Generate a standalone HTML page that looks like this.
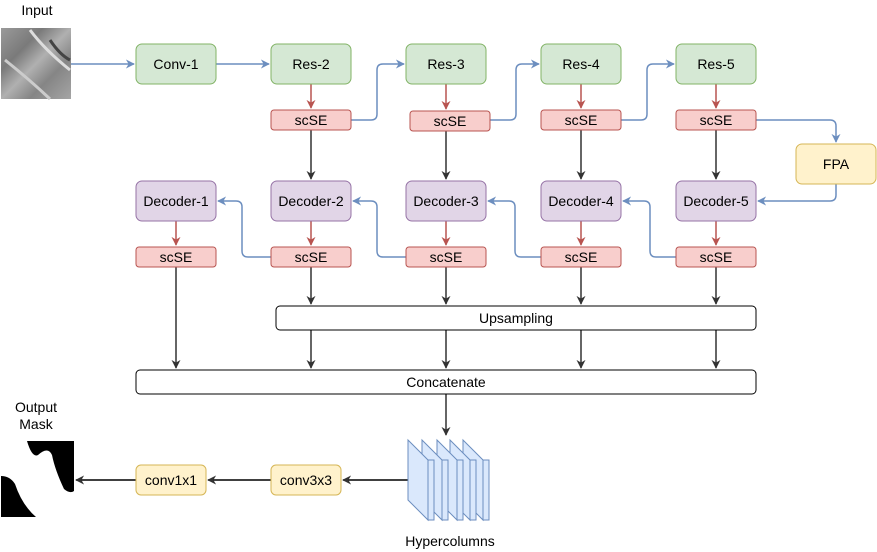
<!DOCTYPE html>
<html><head><meta charset="utf-8"><style>
body{margin:0;background:#fff}
svg{display:block}
text{font-family:"Liberation Sans",Arial,sans-serif;font-size:14px;fill:#000;text-anchor:middle;dominant-baseline:central}
</style></head><body>
<svg width="877" height="552" viewBox="0 0 877 552" xmlns="http://www.w3.org/2000/svg">
<defs>
<marker id="ab" viewBox="0 0 10 10" refX="9" refY="5" markerWidth="9" markerHeight="9" orient="auto" markerUnits="userSpaceOnUse"><path d="M0,0 L10,5 L0,10 L3,5 z" fill="#6c8ebf"/></marker>
<marker id="ar" viewBox="0 0 10 10" refX="9" refY="5" markerWidth="9" markerHeight="9" orient="auto" markerUnits="userSpaceOnUse"><path d="M0,0 L10,5 L0,10 L3,5 z" fill="#b85450"/></marker>
<marker id="ak" viewBox="0 0 10 10" refX="9" refY="5" markerWidth="9" markerHeight="9" orient="auto" markerUnits="userSpaceOnUse"><path d="M0,0 L10,5 L0,10 L3,5 z" fill="#333"/></marker>
<linearGradient id="tex" x1="0" y1="0" x2="1" y2="1"><stop offset="0" stop-color="#9a9a9a"/><stop offset="0.3" stop-color="#7a7a7a"/><stop offset="0.5" stop-color="#b0b0b0"/><stop offset="0.7" stop-color="#858585"/><stop offset="1" stop-color="#a5a5a5"/></linearGradient>
</defs>
<text x="37" y="10">Input</text>
<rect x="1" y="28" width="70" height="71" fill="url(#tex)"/>
<path d="M30,30 Q45,50 70,70" stroke="#ddd" stroke-width="3" fill="none"/>
<path d="M5,60 Q30,80 50,99" stroke="#ccc" stroke-width="3" fill="none"/>
<path d="M50,40 Q60,55 70,60" stroke="#444" stroke-width="3" fill="none"/>

<g fill="none" stroke-width="1.5">
<path d="M71,64 H134" stroke="#6c8ebf" marker-end="url(#ab)"/>
<path d="M216,64 H269" stroke="#6c8ebf" marker-end="url(#ab)"/>
<path d="M351,120 H371 Q377,120 377,114 V70 Q377,64 383,64 H404" stroke="#6c8ebf" marker-end="url(#ab)"/>
<path d="M490,120 H510 Q516,120 516,114 V70 Q516,64 522,64 H539" stroke="#6c8ebf" marker-end="url(#ab)"/>
<path d="M621,120 H641 Q647,120 647,114 V70 Q647,64 653,64 H674" stroke="#6c8ebf" marker-end="url(#ab)"/>
<path d="M756,120 H830 Q836,120 836,126 V142" stroke="#6c8ebf" marker-end="url(#ab)"/>
<path d="M836,184 V195 Q836,201 830,201 H758" stroke="#6c8ebf" marker-end="url(#ab)"/>
<path d="M676,257 H656 Q650,257 650,251 V207 Q650,201 644,201 H623" stroke="#6c8ebf" marker-end="url(#ab)"/>
<path d="M541,257 H521 Q515,257 515,251 V207 Q515,201 509,201 H488" stroke="#6c8ebf" marker-end="url(#ab)"/>
<path d="M406,257 H383 Q377,257 377,251 V207 Q377,201 371,201 H353" stroke="#6c8ebf" marker-end="url(#ab)"/>
<path d="M271,257 H248 Q242,257 242,251 V207 Q242,201 236,201 H218" stroke="#6c8ebf" marker-end="url(#ab)"/>
<g stroke="#b85450">
<path d="M311,84 V108" marker-end="url(#ar)"/>
<path d="M446,84 V109" marker-end="url(#ar)"/>
<path d="M581,84 V108" marker-end="url(#ar)"/>
<path d="M716,84 V108" marker-end="url(#ar)"/>
<path d="M176,221 V245" marker-end="url(#ar)"/>
<path d="M311,221 V245" marker-end="url(#ar)"/>
<path d="M446,221 V245" marker-end="url(#ar)"/>
<path d="M581,221 V245" marker-end="url(#ar)"/>
<path d="M716,221 V245" marker-end="url(#ar)"/>
</g>
<g stroke="#333">
<path d="M311,130 V179" marker-end="url(#ak)"/>
<path d="M446,131 V179" marker-end="url(#ak)"/>
<path d="M581,130 V179" marker-end="url(#ak)"/>
<path d="M716,130 V179" marker-end="url(#ak)"/>
<path d="M311,267 V304" marker-end="url(#ak)"/>
<path d="M446,267 V304" marker-end="url(#ak)"/>
<path d="M581,267 V304" marker-end="url(#ak)"/>
<path d="M716,267 V304" marker-end="url(#ak)"/>
<path d="M176,267 V368" marker-end="url(#ak)"/>
<path d="M311,330 V368" marker-end="url(#ak)"/>
<path d="M446,330 V368" marker-end="url(#ak)"/>
<path d="M581,330 V368" marker-end="url(#ak)"/>
<path d="M716,330 V368" marker-end="url(#ak)"/>
<path d="M446,394 V435" marker-end="url(#ak)"/>
</g>
<g stroke="#000">
<path d="M408,480 H343" marker-end="url(#ak)"/>
<path d="M271,480 H208" marker-end="url(#ak)"/>
<path d="M136,480 H76" marker-end="url(#ak)"/>
</g>
</g>

<g stroke="#82b366" fill="#d5e8d4">
<rect x="136" y="44" width="80" height="40" rx="6"/>
<rect x="271" y="44" width="80" height="40" rx="6"/>
<rect x="406" y="44" width="80" height="40" rx="6"/>
<rect x="541" y="44" width="80" height="40" rx="6"/>
<rect x="676" y="44" width="80" height="40" rx="6"/>
</g>
<text x="176" y="64">Conv-1</text><text x="311" y="64">Res-2</text><text x="446" y="64">Res-3</text><text x="581" y="64">Res-4</text><text x="716" y="64">Res-5</text>
<g stroke="#9673a6" fill="#e1d5e7">
<rect x="136" y="181" width="80" height="40" rx="6"/>
<rect x="271" y="181" width="80" height="40" rx="6"/>
<rect x="406" y="181" width="80" height="40" rx="6"/>
<rect x="541" y="181" width="80" height="40" rx="6"/>
<rect x="676" y="181" width="80" height="40" rx="6"/>
</g>
<text x="176" y="201">Decoder-1</text><text x="311" y="201">Decoder-2</text><text x="446" y="201">Decoder-3</text><text x="581" y="201">Decoder-4</text><text x="716" y="201">Decoder-5</text>
<g stroke="#b85450" fill="#f8cecc">
<rect x="271" y="110" width="80" height="20" rx="3"/>
<rect x="410" y="111" width="80" height="20" rx="3"/>
<rect x="541" y="110" width="80" height="20" rx="3"/>
<rect x="676" y="110" width="80" height="20" rx="3"/>
<rect x="136" y="247" width="80" height="20" rx="3"/>
<rect x="271" y="247" width="80" height="20" rx="3"/>
<rect x="406" y="247" width="80" height="20" rx="3"/>
<rect x="541" y="247" width="80" height="20" rx="3"/>
<rect x="676" y="247" width="80" height="20" rx="3"/>
</g>
<text x="311" y="120">scSE</text><text x="450" y="121">scSE</text><text x="581" y="120">scSE</text><text x="716" y="120">scSE</text>
<text x="176" y="257">scSE</text><text x="311" y="257">scSE</text><text x="446" y="257">scSE</text><text x="581" y="257">scSE</text><text x="716" y="257">scSE</text>
<g stroke="#d6b656" fill="#fff2cc">
<rect x="796" y="144" width="80" height="40" rx="6"/>
<rect x="271" y="465" width="70" height="30" rx="5"/>
<rect x="136" y="465" width="70" height="30" rx="5"/>
</g>
<text x="836" y="164">FPA</text><text x="306" y="480">conv3x3</text><text x="171" y="480">conv1x1</text>
<g stroke="#000" fill="#fff">
<rect x="276" y="306" width="480" height="24" rx="4"/>
<rect x="136" y="370" width="620" height="24" rx="4"/>
</g>
<text x="516" y="318">Upsampling</text><text x="446" y="382">Concatenate</text>

<g stroke="#6c8ebf" fill="#dae8fc">
<g transform="translate(55,0)"><path d="M408,440 L428,460 V520 L408,500 Z"/><rect x="428" y="460" width="6" height="60"/></g>
<g transform="translate(42,0)"><path d="M408,440 L428,460 V520 L408,500 Z"/><rect x="428" y="460" width="6" height="60"/></g>
<g transform="translate(29,0)"><path d="M408,440 L428,460 V520 L408,500 Z"/><rect x="428" y="460" width="6" height="60"/></g>
<g transform="translate(14,0)"><path d="M408,440 L428,460 V520 L408,500 Z"/><rect x="428" y="460" width="6" height="60"/></g>
<g><path d="M408,440 L428,460 V520 L408,500 Z"/><rect x="428" y="460" width="6" height="60"/></g>
</g>
<text x="450" y="541">Hypercolumns</text>

<text x="36" y="407">Output</text><text x="36" y="424">Mask</text>
<path d="M27,441 H74 V491 Q70,494 64,489 Q55,470 52,455 Q48,446 38,455 Q32,458 27,441 Z" fill="#000"/>
<path d="M1,476 Q10,476 15,484 Q22,505 36,517 H1 Z" fill="#000"/>
</svg>
</body></html>
